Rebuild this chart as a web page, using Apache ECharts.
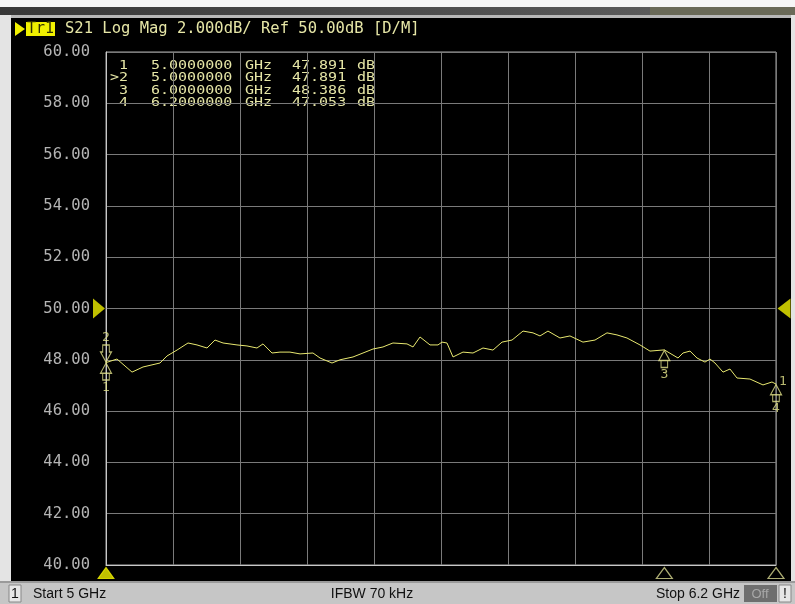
<!DOCTYPE html>
<html><head><meta charset="utf-8">
<script src="https://cdn.jsdelivr.net/npm/echarts@6/dist/echarts.min.js"></script>
<style>html,body{margin:0;padding:0;background:#fff}#c{width:795px;height:604px}</style>
</head><body><div id="c"></div>
<script>
// ---- data ----
const startGHz = 5.0;
const stopGHz = 6.2;
const refLevelDb = 50;
const yMin = 40, yMax = 60, yStep = 2;
const xDivisions = 10;

const freqGHz = [5.0000,5.0197,5.0466,5.0663,5.0967,5.1093,5.1272,5.1469,5.1630,5.1809,5.1952,5.2096,5.2346,5.2525,5.2704,5.2812,5.2973,5.3116,5.3295,5.3475,5.3707,5.3833,5.4048,5.4191,5.4424,5.4603,5.4782,5.4961,5.5051,5.5140,5.5391,5.5499,5.5624,5.5803,5.5946,5.6018,5.6107,5.6215,5.6394,5.6573,5.6752,5.6931,5.7093,5.7272,5.7469,5.7648,5.7773,5.7916,5.8131,5.8310,5.8543,5.8758,5.8973,5.9152,5.9331,5.9564,5.9743,6.0000,6.0245,6.0334,6.0460,6.0585,6.0728,6.0818,6.0907,6.1051,6.1176,6.1301,6.1534,6.1767,6.1928,6.2000];
const magDb = [47.891,48.03,47.52,47.72,47.875,48.15,48.38,48.655,48.58,48.46,48.77,48.655,48.58,48.54,48.46,48.62,48.265,48.30,48.30,48.23,48.265,48.07,47.875,48.00,48.11,48.265,48.42,48.50,48.58,48.655,48.62,48.50,48.89,48.58,48.58,48.69,48.655,48.11,48.30,48.265,48.46,48.38,48.69,48.77,49.12,49.05,48.93,49.12,48.85,48.93,48.69,48.77,49.05,48.97,48.85,48.58,48.34,48.386,48.07,48.265,48.34,48.07,47.91,48.03,47.875,47.52,47.64,47.29,47.25,47.02,47.135,47.053];

const markerIds = ['1','2','3','4'];
const markerFreqGHz = [5.0, 5.0, 6.0, 6.2];
const markerDb = [47.891, 47.891, 48.386, 47.053];
const markerDir = ['up','down','up','up'];
const activeMarker = '2';
const markerFreqText = ['5.0000000','5.0000000','6.0000000','6.2000000'];
const markerValText = ['47.891','47.891','48.386','47.053'];

const headerText = 'S21 Log Mag 2.000dB/ Ref 50.00dB [D/M]';
const traceName = 'Tr1';
const statusTexts = {ch:'1', start:'Start 5 GHz', ifbw:'IFBW 70 kHz', stop:'Stop 6.2 GHz', off:'Off', warn:'!'};

// ---- build ----
const toX = f => Math.round((f - startGHz) * 1000 * 1000) / 1000; // MHz offset from start
const spanMHz = (stopGHz - startGHz) * 1000;
const traceData = freqGHz.map((f, i) => [toX(f), magDb[i]]);

const YEL = '#e8e870';
const TXT = '#e6e6a6';
const MK = '#e4e48a';
const MONO = '"DejaVu Sans Mono", "Liberation Mono", monospace';
const SANS = '"Liberation Sans Narrow","Liberation Sans",sans-serif';

const upPath = 'path://M5,0 L10,9 L0,9 Z M2,9 L2,15 L8,15 L8,9';
const downPath = 'path://M2,0 L8,0 L8,6 L10,6 L5,15 L0,6 L2,6 Z';

const markerData = markerIds.map((id, i) => ({
  value: [toX(markerFreqGHz[i]), markerDb[i]],
  symbol: markerDir[i] === 'up' ? upPath : downPath,
  symbolOffset: [0, markerDir[i] === 'up' ? 9 : -9],
  label: {show: true, formatter: id, position: markerDir[i] === 'up' ? 'bottom' : 'top', distance: 0}
}));

const uniqFreq = [...new Set(markerFreqGHz)];
const activeFreq = markerFreqGHz[markerIds.indexOf(activeMarker)];
const bottomData = uniqFreq.map(f => ({
  value: [toX(f), yMin],
  itemStyle: f === activeFreq ? {color: '#f0f000', borderColor: '#f0f000'} : {color: 'rgba(0,0,0,0)', borderColor: '#d8d890', borderWidth: 1.2}
}));

// marker table graphics
const tableRowsY = [65.5, 78, 90.5, 103];
const tableGraphics = [];
markerIds.forEach((id, i) => {
  const y = tableRowsY[i];
  const f = {fontFamily: MONO, fontSize: 12.5, fill: TXT, textVerticalAlign: 'middle'};
  const t = (x, text, align) => ({type:'text', x, y, scaleX: 1.2, style: Object.assign({}, f, {text, textAlign: align})});
  tableGraphics.push(t(128, (id === activeMarker ? '>' : '') + id, 'right'));
  tableGraphics.push(t(151, markerFreqText[i], 'left'));
  tableGraphics.push(t(245, 'GHz', 'left'));
  tableGraphics.push(t(292, markerValText[i], 'left'));
  tableGraphics.push(t(357, 'dB', 'left'));
});

const chrome = [
  {type:'rect', shape:{x:0,y:0,width:795,height:8}, style:{fill:'#f6f6f6'}, silent:true},
  {type:'rect', shape:{x:0,y:7,width:650,height:8}, style:{fill:{type:'linear',x:0,y:0,x2:1,y2:0,colorStops:[{offset:0,color:'#383838'},{offset:1,color:'#5a5a5a'}]}}, silent:true},
  {type:'rect', shape:{x:650,y:7,width:145,height:8}, style:{fill:'#6a6a58'}, silent:true},
  {type:'rect', shape:{x:0,y:15,width:795,height:3}, style:{fill:'#b8b8b8'}, silent:true},
  {type:'rect', shape:{x:0,y:15,width:11,height:570}, style:{fill:'#e4e4e4'}, silent:true},
  {type:'rect', shape:{x:791,y:15,width:4,height:570}, style:{fill:'#e4e4e4'}, silent:true},
  {type:'rect', shape:{x:0,y:581,width:795,height:23}, style:{fill:'#c6c6c6'}, silent:true},
  {type:'rect', shape:{x:0,y:581,width:795,height:2}, style:{fill:'#9a9a9a'}, silent:true},
  // header
  {type:'polygon', shape:{points:[[15,22],[25,29],[15,36]]}, style:{fill:'#f0f000'}},
  {type:'rect', shape:{x:26,y:22,width:29,height:14}, style:{fill:'#f0f000'}},
  {type:'text', x:40.5, y:29, style:{text: traceName, fontFamily: MONO, fontSize: 15, fill:'#303000', textAlign:'center', textVerticalAlign:'middle'}},
  {type:'text', x:65, y:29, style:{text: headerText, fontFamily: MONO, fontSize: 15.5, fill: TXT, textAlign:'left', textVerticalAlign:'middle'}},
  // status bar
  {type:'rect', shape:{x:9,y:585,width:12,height:17}, style:{fill:'#e6e6e6', stroke:'#888', lineWidth:1}},
  {type:'text', x:15, y:594, style:{text: statusTexts.ch, fontFamily:SANS, fontSize:14, fill:'#111', textAlign:'center', textVerticalAlign:'middle'}},
  {type:'text', x:33, y:594, style:{text: statusTexts.start, fontFamily:SANS, fontSize:14, fill:'#111', textAlign:'left', textVerticalAlign:'middle'}},
  {type:'text', x:372, y:594, style:{text: statusTexts.ifbw, fontFamily:SANS, fontSize:14, fill:'#111', textAlign:'center', textVerticalAlign:'middle'}},
  {type:'text', x:740, y:594, style:{text: statusTexts.stop, fontFamily:SANS, fontSize:14, fill:'#111', textAlign:'right', textVerticalAlign:'middle'}},
  {type:'rect', shape:{x:744,y:585,width:33,height:17}, style:{fill:'#6e6e6e'}},
  {type:'text', x:760, y:594, style:{text: statusTexts.off, fontFamily:SANS, fontSize:13, fill:'#a8a8a8', textAlign:'center', textVerticalAlign:'middle'}},
  {type:'rect', shape:{x:779,y:585,width:12,height:17}, style:{fill:'#e6e6e6', stroke:'#888', lineWidth:1}},
  {type:'text', x:785, y:594, style:{text: statusTexts.warn, fontFamily:SANS, fontSize:14, fill:'#111', textAlign:'center', textVerticalAlign:'middle'}}
];

const chart = echarts.init(document.getElementById('c'), null, {renderer: 'canvas'});
chart.setOption({
  backgroundColor: '#000',
  animation: false,
  grid: {left: 106, right: 19, top: 52, bottom: 39, show: true, borderColor: '#a8a8a8', borderWidth: 1, backgroundColor: 'transparent'},
  xAxis: {
    type: 'value', min: 0, max: spanMHz, interval: spanMHz / xDivisions,
    axisLine: {show: true, lineStyle: {color: '#c8c8c8', width: 1}},
    axisTick: {show: false}, axisLabel: {show: false},
    splitLine: {show: true, lineStyle: {color: '#7a7a7a', width: 1}}
  },
  yAxis: {
    type: 'value', min: yMin, max: yMax, interval: yStep,
    axisLine: {show: true, lineStyle: {color: '#c8c8c8', width: 1}},
    axisTick: {show: false},
    axisLabel: {margin: 16, fontFamily: MONO, fontSize: 15.5,
      color: v => (v === refLevelDb ? '#e4e49a' : '#b4b4b4'),
      formatter: v => v.toFixed(2)},
    splitLine: {show: true, lineStyle: {color: '#7a7a7a', width: 1}}
  },
  graphic: chrome.concat(tableGraphics),
  series: [
    {type: 'line', name: 'S21', data: traceData, showSymbol: false, symbol: 'none',
      lineStyle: {color: YEL, width: 1}, z: 3},
    {type: 'scatter', name: 'markers', data: markerData, symbolSize: [11, 17], clip: false,
      itemStyle: {color: 'rgba(0,0,0,0)', borderColor: MK, borderWidth: 1.2},
      label: {color: MK, fontFamily: MONO, fontSize: 13}, z: 4},
    {type: 'scatter', name: 'marker4side', data: [[toX(markerFreqGHz[3]), markerDb[3]]], symbolSize: 0, clip: false,
      label: {show: true, formatter: markerIds[0], position: 'right', offset: [-2, -2], color: MK, fontFamily: MONO, fontSize: 13}, z: 4},
    {type: 'scatter', name: 'stimMarks', data: bottomData, symbol: 'triangle', symbolSize: [16, 11], symbolOffset: [0, 8], clip: false, z: 5},
    {type: 'scatter', name: 'refL', data: [[0, refLevelDb]], symbol: 'path://M0,0 L12,10 L0,20 Z', symbolSize: [12, 20], symbolOffset: [-7, 0], clip: false,
      itemStyle: {color: '#f0f000'}, z: 5},
    {type: 'scatter', name: 'refR', data: [[spanMHz, refLevelDb]], symbol: 'path://M12,0 L0,10 L12,20 Z', symbolSize: [13, 20], symbolOffset: [8, 0], clip: false,
      itemStyle: {color: '#f0f000'}, z: 5}
  ]
});
</script>
</body></html>
